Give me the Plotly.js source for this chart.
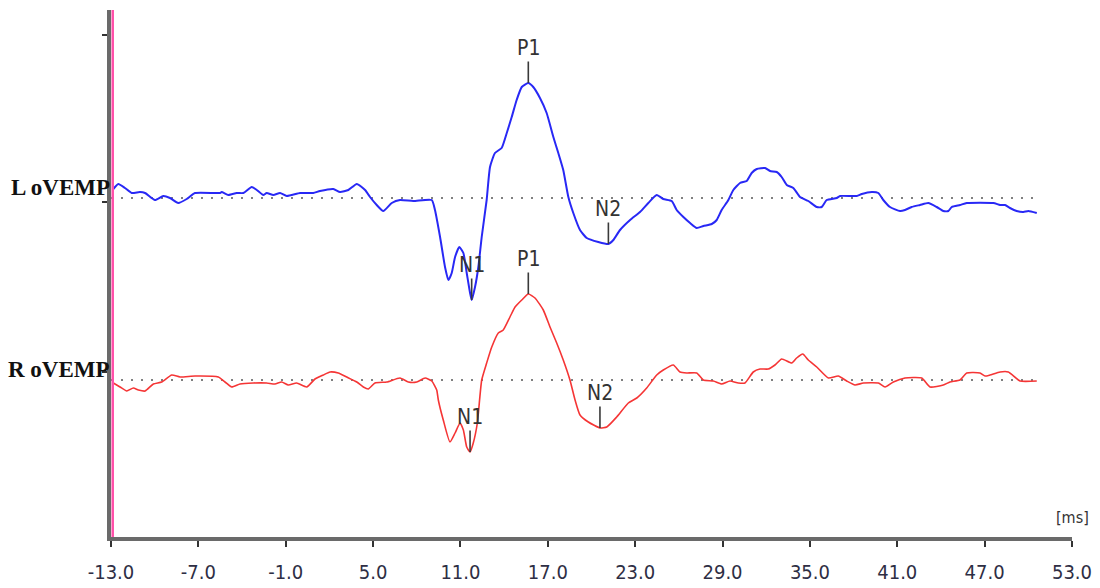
<!DOCTYPE html>
<html>
<head>
<meta charset="utf-8">
<script src="https://cdn.plot.ly/plotly-3.0.1.min.js"></script>
<style>
  html, body { margin: 0; padding: 0; background: #ffffff; }
  #chart { width: 1100px; height: 588px; }
</style>
</head>
<body>
<div id="chart"></div>
<script>
// ---- data (time in ms, amplitude in arbitrary units) ----
const timeL = [-12.84,-12.50,-12.04,-11.58,-11.01,-10.66,-9.98,-9.41,-8.95,-8.38,
  -7.80,-7.23,-5.51,-5.40,-4.94,-4.37,-3.91,-3.34,-2.99,-2.54,
  -2.31,-1.85,-1.39,-0.93,-0.02,0.89,1.35,2.27,2.73,3.30,
  3.88,4.45,4.79,5.25,5.70,6.28,6.85,7.76,9.03,9.25,
  9.60,9.94,10.17,10.40,10.63,10.92,11.20,11.43,11.66,11.77,
  12.00,12.23,12.46,12.80,13.03,13.37,13.83,14.18,14.52,14.86,
  15.21,15.66,16.00,16.46,16.92,17.38,17.72,18.06,18.41,18.75,
  19.21,19.67,20.47,21.16,21.50,21.96,22.65,23.33,23.90,24.48,
  24.93,25.51,25.85,26.31,26.77,27.23,27.68,28.26,28.60,28.94,
  29.40,29.74,30.20,30.66,31.00,31.35,31.92,32.26,32.72,33.06,
  33.41,33.86,34.32,34.89,35.47,35.81,36.15,36.84,37.07,38.22,
  38.56,39.25,39.70,40.04,40.50,41.19,41.53,41.99,42.56,43.13,
  43.71,44.16,44.51,44.74,45.31,45.77,47.60,48.06,48.40,48.74,
  49.20,49.66,50.00,50.58];
const ampL = [0.9,1.4,1.0,0.5,0.6,0.5,-0.2,0.2,0,-0.5,
  -0.1,0.5,0.5,0.6,0.3,0.5,0.5,1.1,0.8,0.3,
  0.5,0.3,0.5,0.2,0.5,0.5,0.7,0.9,0.6,0.8,
  1.4,0.8,0.1,-0.7,-1.3,-0.5,-0.2,-0.3,-0.2,-1.2,
  -3.9,-6.9,-8.2,-7.5,-5.9,-4.9,-5.5,-7.5,-9.5,-10.2,
  -8.9,-6.9,-3.9,-0.2,3.1,4.5,5.0,6.5,8.1,9.8,
  11.1,11.5,11.1,10.0,8.5,6.1,4.5,2.8,0.1,-1.5,
  -3.2,-4.0,-4.4,-4.6,-4.2,-3.2,-2.2,-1.4,-0.5,0.3,
  -0.1,-0.3,-1.2,-1.9,-2.5,-3.0,-2.8,-2.6,-2.2,-1.2,
  -0.2,0.8,1.5,1.7,2.5,2.9,3.0,2.7,2.6,2.1,
  1.3,1.0,0.1,-0.3,-0.9,-0.9,-0.2,0,0.2,0.2,
  0.4,0.6,0.5,-0.2,-0.9,-1.3,-1.2,-0.9,-0.7,-0.5,
  -0.9,-1.3,-1.3,-0.9,-0.7,-0.5,-0.5,-0.7,-0.7,-1.0,
  -1.3,-1.4,-1.3,-1.5];

const timeR = [-12.84,-12.38,-11.92,-11.47,-11.12,-10.66,-10.09,-9.52,-8.83,-8.26,
  -7.23,-5.63,-5.17,-4.71,-4.14,-3.23,-2.31,-1.74,-1.28,-0.82,
  -0.25,0.44,1.01,1.58,2.04,2.61,3.19,3.88,4.33,4.67,
  5.13,5.94,6.85,7.42,8.00,8.57,9.03,9.37,9.48,9.82,
  10.28,10.63,10.97,11.20,11.43,11.66,11.88,12.16,12.46,12.80,
  13.15,13.60,13.94,14.40,14.75,15.21,15.66,16.12,16.69,17.15,
  17.61,18.06,18.52,18.87,19.21,19.78,20.58,21.05,21.73,22.53,
  23.11,23.79,24.48,24.93,25.62,26.08,26.54,27.23,27.68,28.37,
  28.94,29.51,30.08,30.54,31.11,31.57,32.14,32.60,33.06,33.75,
  34.09,34.51,34.89,35.47,36.27,36.95,37.53,38.10,38.67,39.70,
  40.16,40.73,41.53,42.68,43.25,44.16,44.62,45.31,45.77,46.68,
  47.03,47.37,48.06,48.63,49.43,50.58];
const ampR = [-0.3,-0.7,-1.1,-0.8,-1.0,-1.1,-0.4,-0.2,0.5,0.3,
  0.4,0.3,-0.2,-0.7,-0.4,-0.3,-0.3,-0.4,-0.2,-0.5,
  -0.3,-0.7,0.1,0.5,0.8,0.7,0.3,-0.2,-0.7,-0.9,
  -0.3,-0.2,0.2,-0.2,-0.2,0.2,-0.1,-1.0,-2.0,-4.0,
  -6.2,-5.3,-4.3,-5.0,-6.7,-7.2,-6.3,-4.3,0,1.7,
  3.3,4.7,5.0,6.3,7.3,8.0,8.6,8.2,7.0,5.3,
  3.7,2.0,0,-2.0,-3.5,-4.2,-4.8,-4.7,-3.7,-2.3,
  -1.8,-0.8,0.5,1.0,1.5,0.8,0.7,0.7,0,-0.1,
  -0.4,-0.1,-0.3,-0.3,0.8,1.1,1.1,1.5,2.1,1.7,
  2.2,2.6,2.0,1.3,0.2,0.4,-0.1,-0.5,-0.3,-0.3,
  -0.7,-0.2,0.2,0.2,-0.7,-0.5,-0.2,0,0.7,0.7,
  0.4,0.5,0.8,0.8,-0.1,-0.1];

const traceNames = ["L oVEMP", "R oVEMP"];
const peakLabels = ["N1", "P1", "N2"];
const peakLatL = [11.77, 15.66, 21.16];
const peakLatR = [11.66, 15.66, 20.58];
const xTickVals = [-13, -7, -1, 5, 11, 17, 23, 29, 35, 41, 47, 53];
const xTickText = ["-13.0", "-7.0", "-1.0", "5.0", "11.0", "17.0", "23.0", "29.0", "35.0", "41.0", "47.0", "53.0"];
const unitLabel = "[ms]";

// ---- layout constants ----
const offsetL = 18.2, offsetR = 0;
const xMin = -13, xMax = 53;
const narrow = '"Liberation Sans Narrow", "Arial Narrow", "DejaVu Sans Condensed", "Liberation Sans", Arial, sans-serif';

function shifted(arr, off) { return arr.map(v => v + off); }

function nearestAmp(times, amps, t) {
  let best = 0;
  for (let i = 1; i < times.length; i++) {
    if (Math.abs(times[i] - t) < Math.abs(times[best] - t)) best = i;
  }
  return { x: times[best], y: amps[best] };
}

const traces = [
  { x: [xMin, timeL[timeL.length - 1]], y: [offsetL, offsetL], mode: 'lines',
    line: { color: '#555555', width: 1.5, dash: '2px,8px' }, hoverinfo: 'skip', showlegend: false },
  { x: [xMin, timeR[timeR.length - 1]], y: [offsetR, offsetR], mode: 'lines',
    line: { color: '#555555', width: 1.5, dash: '2px,8px' }, hoverinfo: 'skip', showlegend: false },
  { x: timeL, y: shifted(ampL, offsetL), mode: 'lines', name: traceNames[0],
    line: { color: '#2828f5', width: 2, shape: 'spline', smoothing: 0.5 }, showlegend: false },
  { x: timeR, y: shifted(ampR, offsetR), mode: 'lines', name: traceNames[1],
    line: { color: '#f53535', width: 1.6, shape: 'spline', smoothing: 0.5 }, showlegend: false }
];

const annotations = [];
function addPeaks(times, amps, lats, off) {
  lats.forEach((lat, i) => {
    const p = nearestAmp(times, amps, lat);
    annotations.push({
      x: p.x, y: p.y + off, xref: 'x', yref: 'y',
      text: peakLabels[i], showarrow: true, arrowhead: 0, arrowwidth: 1.6,
      arrowcolor: '#3a3a3a', ax: 0, ay: -35, standoff: 0,
      font: { family: narrow, size: 21, color: '#333333' }
    });
  });
}
addPeaks(timeL, ampL, peakLatL, offsetL);
addPeaks(timeR, ampR, peakLatR, offsetR);

[[traceNames[0], offsetL], [traceNames[1], offsetR]].forEach(([name, off]) => {
  annotations.push({
    x: 0, xref: 'paper', y: off, yref: 'y', xanchor: 'right', yanchor: 'middle',
    xshift: 1, yshift: 11, showarrow: false, text: name,
    font: { family: '"Liberation Serif", "Times New Roman", serif', size: 23, color: '#111111', weight: 'bold' }
  });
});

annotations.push({
  x: xMax, xref: 'x', y: 0, yref: 'paper', xanchor: 'center', yanchor: 'bottom',
  yshift: 8, showarrow: false, text: unitLabel,
  font: { family: narrow, size: 16, color: '#333333' }
});

const layout = {
  width: 1100, height: 588,
  margin: { l: 111, r: 28, t: 10, b: 51 },
  paper_bgcolor: '#ffffff', plot_bgcolor: '#ffffff',
  showlegend: false,
  xaxis: {
    range: [xMin, xMax], showgrid: false, zeroline: false,
    showline: true, linecolor: '#6a6a6a', linewidth: 4,
    ticks: 'outside', ticklen: 6, tickwidth: 2, tickcolor: '#333333',
    tickvals: xTickVals, ticktext: xTickText, ticklabelstandoff: 8,
    tickfont: { family: narrow, size: 20, color: '#2e2e44' }
  },
  yaxis: {
    range: [-15.7, 37.0], showgrid: false, zeroline: false,
    showline: true, linecolor: '#6a6a6a', linewidth: 4,
    ticks: 'outside', ticklen: 5, tickwidth: 2, tickcolor: '#333333',
    tickvals: [34.5, 17.8, 0.8], showticklabels: false
  },
  shapes: [
    { type: 'line', xref: 'paper', yref: 'paper', x0: 0.0018, x1: 0.0018, y0: 0, y1: 1,
      line: { color: '#ff4fa8', width: 2.5 } }
  ],
  annotations: annotations
};

Plotly.newPlot('chart', traces, layout, { staticPlot: true, displayModeBar: false });
</script>
</body>
</html>
